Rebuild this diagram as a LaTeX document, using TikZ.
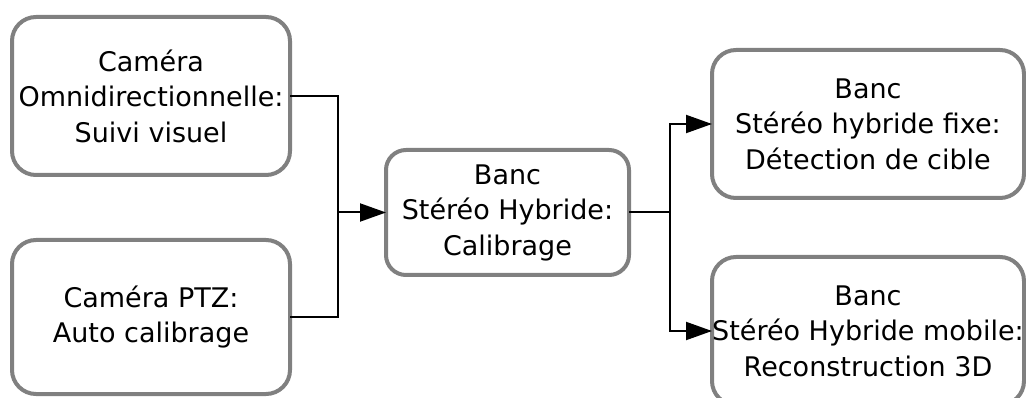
\documentclass[tikz,border=0pt]{standalone}
\usepackage{fontspec}
\setmainfont{DejaVu Sans}
\usetikzlibrary{arrows.meta}
\definecolor{boxgray}{HTML}{808080}
\tikzset{
  stage/.style={draw=boxgray, line width=4pt, rounded corners=24pt, fill=white,
    align=center, inner sep=0pt, outer sep=0pt,
    font=\fontsize{27}{35.5}\selectfont},
  link/.style={draw=black, line width=2pt},
  flow/.style={link, -{Triangle[length=26pt, width=18pt]}}
}
\begin{document}
\begin{tikzpicture}[x=1pt, y=-1pt]
  \useasboundingbox (0,0) rectangle (1026,398);
  \clip (0,0) rectangle (1026,398);
  \fill[white] (0,0) rectangle (1026,398);

  % input stages
  \node[stage, minimum width=278pt, minimum height=158pt] (omni) at (151,96)
    {Caméra\\Omnidirectionnelle:\\Suivi visuel};
  \node[stage, minimum width=278pt, minimum height=154pt] (ptz) at (151,317)
    {Caméra PTZ:\\Auto calibrage};

  % calibration stage
  \node[stage, minimum width=243pt, minimum height=125pt, rounded corners=20pt] (calib) at (507.5,212.5)
    {Banc\\Stéréo Hybride:\\Calibrage};

  % applications
  \node[stage, minimum width=312pt, minimum height=148pt] (fixe) at (868,124)
    {Banc\\Stéréo hybride fixe:\\Détection de cible};
  \node[stage, minimum width=312pt, minimum height=148pt] (mobile) at (868,331)
    {Banc\\Stéréo Hybride mobile:\\Reconstruction 3D};

  % junction points
  \coordinate (jin) at (338,212.5);
  \coordinate (jout) at (670,212.5);

  % connectors
  \draw[link] (omni.east) -| (jin);
  \draw[link] (ptz.east) -| (jin);
  \draw[flow] (jin) -- (calib.west);
  \draw[link] (calib.east) -- (jout);
  \draw[flow] (jout) |- (fixe.west);
  \draw[flow] (jout) |- (mobile.west);
\end{tikzpicture}
\end{document}
